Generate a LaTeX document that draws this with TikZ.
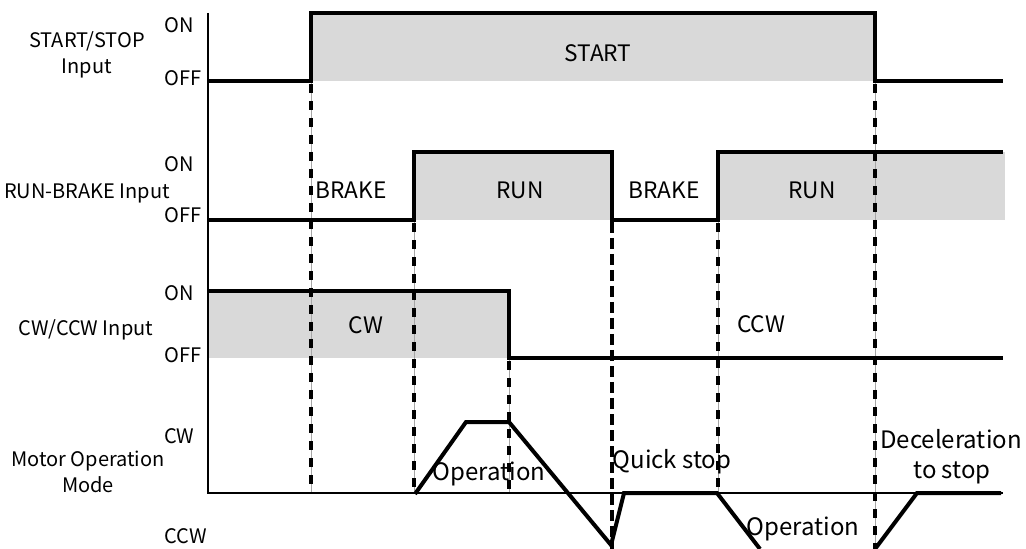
\documentclass[tikz,border=0pt]{standalone}
\usepackage{fontspec}
\setmainfont{Noto Sans CJK SC}
\begin{document}
\begin{tikzpicture}[x=0.75pt,y=-0.75pt,
  wave/.style={line width=3pt,line join=miter,line cap=butt},
  shade/.style={fill=black!15,draw=none},
  guide/.style={draw=black!35,line width=0.5pt},
  dashblk/.style={line width=2.4pt,dash pattern=on 6.75pt off 6pt},
  dashthick/.style={line width=3.4pt,dash pattern=on 8.25pt off 3.75pt},
  axis/.style={line width=1.1pt},
  lbl/.style={font=\fontsize{15}{17}\selectfont,anchor=base,inner sep=0pt},
  lvl/.style={font=\fontsize{15}{17}\selectfont,anchor=base west,inner sep=0pt},
  sig/.style={font=\fontsize{17}{19}\selectfont,anchor=base,inner sep=0pt},
  mode/.style={font=\fontsize{18}{20}\selectfont,anchor=base,inner sep=0pt}]
\useasboundingbox (0,0) rectangle (1026,549);
\fill[white] (0,0) rectangle (1026,549);
% shaded areas
\path[shade] (311,13) rectangle (875,81);
\path[shade] (414,152) rectangle (612,220);
\path[shade] (718,152) rectangle (1005,220);
\path[shade] (208,291) rectangle (509,358);
% guide lines
\foreach \x/\a/\b in {311/81/493,414/220/493,509/358/493,718/220/493,875/81/549}{
  \draw[guide] (\x,\a) -- (\x,\b);
  \draw[dashblk] (\x,\a+3) -- (\x,\b);
}
\draw[dashthick] (612,222) -- (612,549);
% axes
\draw[axis] (208,13) -- (208,493) -- (1003,493);
% waveforms
\draw[wave] (208,81) -- (311,81) -- (311,13) -- (875,13) -- (875,81) -- (1003,81);
\draw[wave] (208,220) -- (414,220) -- (414,152) -- (612,152) -- (612,220) -- (718,220) -- (718,152) -- (1003,152);
\draw[wave] (208,291) -- (509,291) -- (509,358) -- (1003,358);
\draw[wave] (415,494) -- (466,422) -- (509,422) -- (611,545) -- (624,493) -- (717,493) -- (760,549);
\draw[wave] (875,549) -- (917,493) -- (1001,493);
% left labels
\node[lbl] (ssA) at (87,48) {START/STOP};
\node[lbl] (ssB) at (87,74) {Input};
\node[lbl] (rb) at (87,199) {RUN-BRAKE Input};
\node[lbl] (cc) at (86,335) {CW/CCW Input};
\node[lbl] (moA) at (88,466) {Motor Operation};
\node[lbl] (moB) at (88,492) {Mode};
\node[lvl] (on1) at (164,33) {ON};
\node[lvl] (off1) at (164,86) {OFF};
\node[lvl] (on2) at (164,172) {ON};
\node[lvl] (off2) at (164,223) {OFF};
\node[lvl] (on3) at (164,301) {ON};
\node[lvl] (off3) at (164,363) {OFF};
\node[lvl] (cwl) at (164,443) {CW};
\node[lvl] (ccwl) at (164,543) {CCW};
% signal labels
\node[sig] (start) at (598,62) {START};
\node[sig] (brake1) at (351,199) {BRAKE};
\node[sig] (run1) at (520,199) {RUN};
\node[sig] (brake2) at (664,199) {BRAKE};
\node[sig] (run2) at (812,199) {RUN};
\node[sig] (cw) at (366,334) {CW};
\node[sig] (ccw) at (761,333) {CCW};
% mode labels
\node[mode] (op1) at (489,480) {Operation};
\node[mode] (qs) at (672,468) {Quick stop};
\node[mode] (decA) at (951,448) {Deceleration};
\node[mode] (decB) at (952,478) {to stop};
\node[mode] (op2) at (803,535) {Operation};
\end{tikzpicture}
\end{document}
